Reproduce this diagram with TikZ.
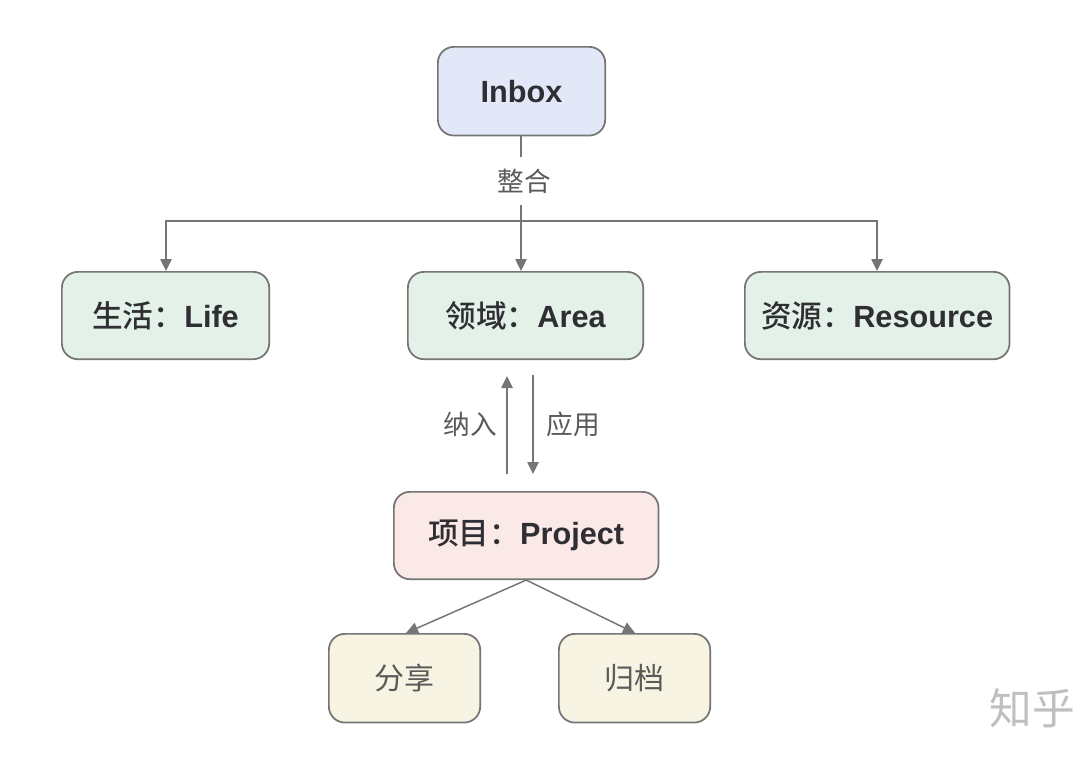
\documentclass[tikz,border=0pt]{standalone}
\usepackage{fontspec}
\setmainfont{Liberation Sans}
\newfontfamily\cjk{Noto Sans CJK SC}
\newfontfamily\cjkm{Noto Sans CJK SC Medium}
\usetikzlibrary{arrows.meta}
\definecolor{edge}{HTML}{757575}
\definecolor{ink}{HTML}{2E2E33}
\definecolor{soft}{HTML}{5A5A5A}
\newcommand{\zhlabel}[1]{{\cjkm\mdseries\fontsize{23}{26}\selectfont #1}}
\tikzset{
  x=0.75pt,y=-0.75pt,
  card/.style={draw=edge,line width=1.3pt,rounded corners=12pt,inner sep=0pt,anchor=north west,text=ink,align=center},
  titled/.style={card,font=\bfseries\fontsize{23}{26}\selectfont},
  plain/.style={card,font=\cjk\fontsize{22.5}{26}\selectfont,text=soft},
  bluebox/.style={titled,fill={rgb,255:red,227;green,232;blue,248}},
  greenbox/.style={titled,fill={rgb,255:red,227;green,241;blue,233}},
  pinkbox/.style={titled,fill={rgb,255:red,251;green,233;blue,231}},
  yellowbox/.style={plain,fill={rgb,255:red,248;green,244;blue,227}},
  conn/.style={draw=edge,line width=1.1pt},
  arrow/.style={conn,-{Triangle[length=9pt,width=8.5pt]}},
  lab/.style={font=\cjk\fontsize{20}{24}\selectfont,text=soft,inner sep=0pt},
}
\begin{document}
\begin{tikzpicture}
\useasboundingbox (0,0) rectangle (1084,760);
\fill[white] (0,0) rectangle (1084,760);
\node[bluebox,minimum width=125.5pt,minimum height=66.5pt] (inbox) at (437,46) {Inbox};
\node[greenbox,minimum width=155.5pt,minimum height=65.5pt] (life) at (61,271) {\zhlabel{生活：}Life};
\node[greenbox,minimum width=176.5pt,minimum height=65.5pt] (area) at (407,271) {\zhlabel{领域：}Area};
\node[greenbox,minimum width=198.5pt,minimum height=65.5pt] (res) at (744,271) {\zhlabel{资源：}Resource};
\node[pinkbox,minimum width=198.5pt,minimum height=65.5pt] (proj) at (393,491) {\zhlabel{项目：}Project};
\node[yellowbox,minimum width=113.5pt,minimum height=66.5pt] (share) at (328,633) {分享};
\node[yellowbox,minimum width=113.5pt,minimum height=66.5pt] (arch) at (558,633) {归档};
\coordinate (fork) at (521,221);
\coordinate (labtop) at (521,157);
\coordinate (labbot) at (521,205);
\node[lab] (zh) at (524,181) {整合};
\draw[conn] (inbox.south -| fork) -- (labtop);
\draw[arrow] (labbot) -- (area.north -| fork);
\draw[arrow] (fork) -| (life.north -| 166,0);
\draw[arrow] (fork) -| (res.north -| 877,0);
\coordinate (upb) at (507,474);
\coordinate (upt) at (507,376);
\coordinate (dnt) at (533,375);
\coordinate (dnb) at (533,474);
\draw[arrow] (upb) -- (upt);
\draw[arrow] (dnt) -- (dnb);
\node[lab] (nr) at (470,424) {纳入};
\node[lab] (yy) at (573,424) {应用};
\draw[arrow] (proj.south) -- (406,633);
\draw[arrow] (proj.south) -- (635,633);
\node[font=\cjk\fontsize{32}{36}\selectfont,text=black!25] (zhihu) at (1032,708) {知乎};
\end{tikzpicture}
\end{document}
